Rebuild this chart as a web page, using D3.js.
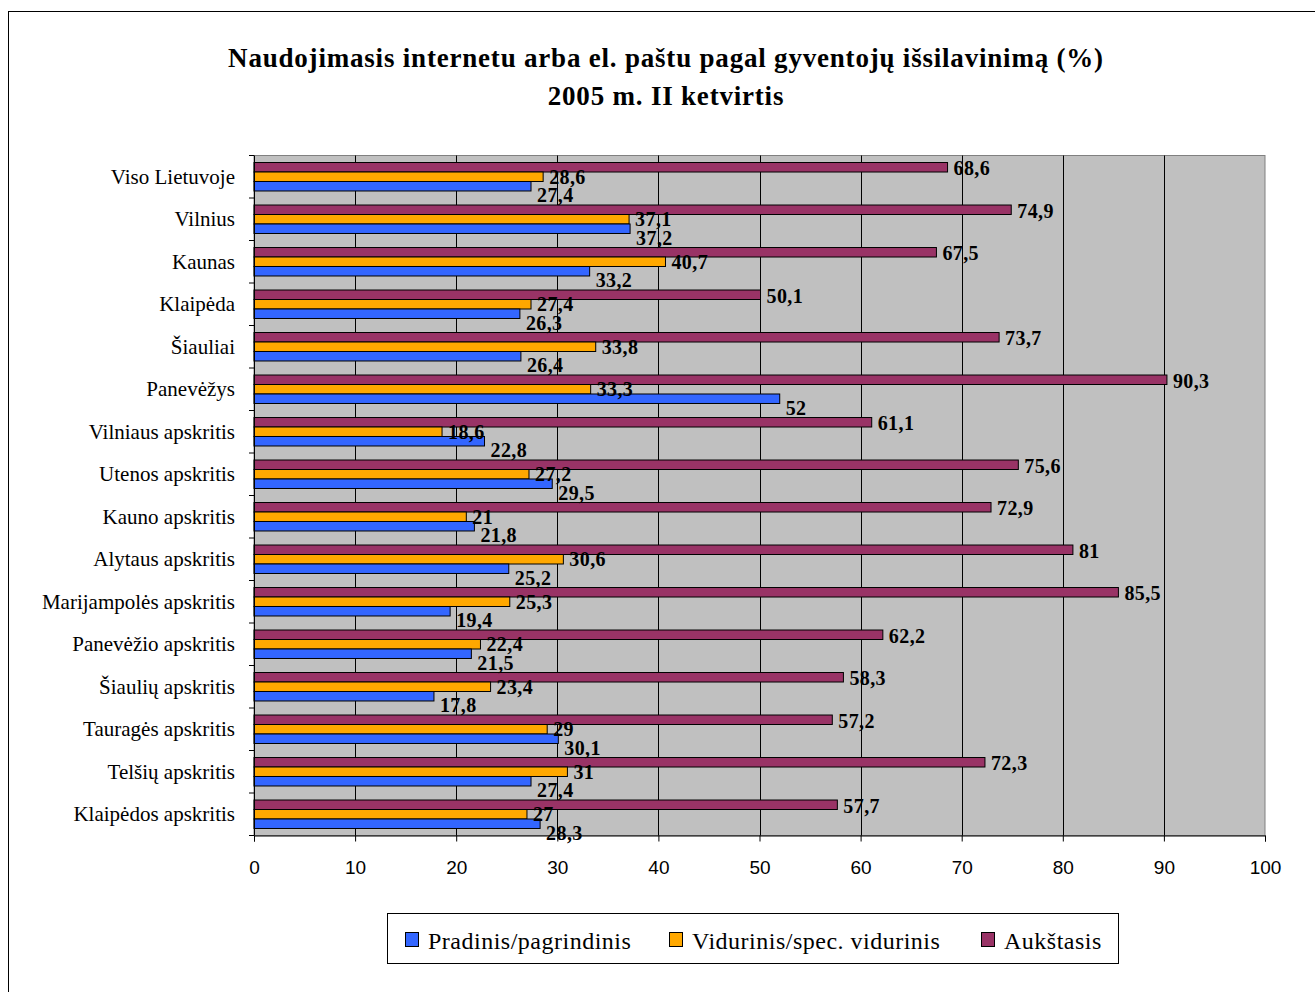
<!DOCTYPE html>
<html>
<head>
<meta charset="utf-8">
<script src="https://cdn.jsdelivr.net/npm/d3@7"></script>
<style>
  html, body { margin: 0; padding: 0; background: #fff; }
  svg { display: block; }
</style>
</head>
<body>
<svg id="chart" width="1315" height="992"></svg>
<script>
// Regions and national total, top to bottom
const categories = [
  "Viso Lietuvoje", "Vilnius", "Kaunas", "Klaipėda", "Šiauliai", "Panevėžys",
  "Vilniaus apskritis", "Utenos apskritis", "Kauno apskritis", "Alytaus apskritis",
  "Marijampolės apskritis", "Panevėžio apskritis", "Šiaulių apskritis",
  "Tauragės apskritis", "Telšių apskritis", "Klaipėdos apskritis"
];

// Share of internet / e-mail users by education level (%)
const pradinis   = [27.4, 37.2, 33.2, 26.3, 26.4, 52, 22.8, 29.5, 21.8, 25.2, 19.4, 21.5, 17.8, 30.1, 27.4, 28.3];
const vidurinis  = [28.6, 37.1, 40.7, 27.4, 33.8, 33.3, 18.6, 27.2, 21, 30.6, 25.3, 22.4, 23.4, 29, 31, 27];
const aukstasis  = [68.6, 74.9, 67.5, 50.1, 73.7, 90.3, 61.1, 75.6, 72.9, 81, 85.5, 62.2, 58.3, 57.2, 72.3, 57.7];

const seriesNames = ["Pradinis/pagrindinis", "Vidurinis/spec. vidurinis", "Aukštasis"];
const xTicks = [0, 10, 20, 30, 40, 50, 60, 70, 80, 90, 100];

const titleLines = [
  "Naudojimasis internetu arba el. paštu pagal gyventojų išsilavinimą (%)",
  "2005 m. II ketvirtis"
];

// Drawing order inside each band: Aukštasis on top, then Vidurinis, then Pradinis.
// dy nudges each series' value labels downward from the bar centre.
const series = [
  { name: seriesNames[2], values: aukstasis, color: "#993366", dy: 1 },
  { name: seriesNames[1], values: vidurinis, color: "#FFA800", dy: 0 },
  { name: seriesNames[0], values: pradinis,  color: "#3366FF", dy: 9 }
];

const serif = "'Liberation Serif', 'Times New Roman', serif";
const svg = d3.select("#chart");
const plot = { left: 254, top: 155.5, right: 1265, bottom: 835.5 };

// Outer chart frame
svg.append("rect")
  .attr("x", 8.5).attr("y", 11.5)
  .attr("width", 1320).attr("height", 1000)
  .attr("fill", "#fff").attr("stroke", "#000").attr("stroke-width", 1);

// Title
svg.append("g").selectAll("text").data(titleLines).join("text")
  .attr("x", 666)
  .attr("y", (d, i) => 67 + i * 38)
  .attr("text-anchor", "middle")
  .attr("font-family", serif)
  .attr("font-weight", "bold")
  .attr("font-size", 27)
  .attr("letter-spacing", 0.8)
  .attr("fill", "#000")
  .text(d => d);

const x = d3.scaleLinear().domain([0, 100]).range([plot.left, plot.right]);
const y = d3.scaleBand().domain(categories).range([plot.top, plot.bottom]).paddingInner(0.33).paddingOuter(0.165);
const yOuter = d3.scaleBand().domain(categories).range([plot.top, plot.bottom]);
const inner = d3.scaleBand().domain(series.map(s => s.name)).range([0, y.bandwidth()]);

// Plot background
svg.append("rect")
  .attr("x", plot.left).attr("y", plot.top)
  .attr("width", plot.right - plot.left).attr("height", plot.bottom - plot.top)
  .attr("fill", "#C0C0C0").attr("stroke", "#808080").attr("stroke-width", 1);

// Vertical gridlines
svg.append("g").selectAll("line").data(xTicks.filter(t => t > 0 && t < 100)).join("line")
  .attr("x1", d => Math.round(x(d)) + 0.5).attr("x2", d => Math.round(x(d)) + 0.5)
  .attr("y1", plot.top).attr("y2", plot.bottom)
  .attr("stroke", "#000").attr("stroke-width", 1);

const points = series.flatMap(s => s.values.map((v, i) => ({ v, cat: categories[i], s })));

// Bars
svg.append("g").selectAll("rect").data(points).join("rect")
  .attr("x", x(0))
  .attr("y", d => y(d.cat) + inner(d.s.name))
  .attr("width", d => x(d.v) - x(0))
  .attr("height", inner.bandwidth())
  .attr("fill", d => d.s.color)
  .attr("stroke", "#000").attr("stroke-width", 1);

// Value labels, drawn over all bars
svg.append("g").selectAll("text").data(points).join("text")
  .attr("x", d => x(d.v) + 6)
  .attr("y", d => y(d.cat) + inner(d.s.name) + inner.bandwidth() / 2 + d.s.dy)
  .attr("dominant-baseline", "central")
  .attr("font-family", serif)
  .attr("font-weight", "bold")
  .attr("font-size", 20)
  .attr("letter-spacing", 0.4)
  .attr("fill", "#000")
  .text(d => String(d.v).replace(".", ","));

// Category axis
const yAxisG = svg.append("g");
yAxisG.append("line")
  .attr("x1", plot.left + 0.5).attr("x2", plot.left + 0.5)
  .attr("y1", plot.top).attr("y2", plot.bottom)
  .attr("stroke", "#000");
yAxisG.selectAll("line.tick").data(d3.range(categories.length + 1)).join("line")
  .attr("class", "tick")
  .attr("x1", plot.left - 5).attr("x2", plot.left)
  .attr("y1", i => plot.top + i * yOuter.step()).attr("y2", i => plot.top + i * yOuter.step())
  .attr("stroke", "#000");
yAxisG.selectAll("text").data(categories).join("text")
  .attr("x", 235)
  .attr("y", d => yOuter(d) + yOuter.bandwidth() / 2)
  .attr("dominant-baseline", "central")
  .attr("text-anchor", "end")
  .attr("font-family", serif)
  .attr("font-size", 21)
  .attr("fill", "#000")
  .text(d => d);

// Value axis
const xAxis = d3.axisBottom(x).tickValues(xTicks).tickSize(6).tickPadding(19).tickFormat(d3.format("d"));
const xAxisG = svg.append("g").attr("transform", `translate(0,${plot.bottom})`).call(xAxis);
xAxisG.select(".domain").attr("stroke", "#000");
xAxisG.selectAll(".tick line").attr("stroke", "#000");
xAxisG.selectAll(".tick text")
  .attr("font-family", "'Liberation Sans', Arial, sans-serif")
  .attr("font-size", 19)
  .attr("fill", "#000");

// Legend
const legend = svg.append("g");
legend.append("rect")
  .attr("x", 387.5).attr("y", 913.5).attr("width", 731).attr("height", 50)
  .attr("fill", "#fff").attr("stroke", "#000");
const legendItems = [
  { name: seriesNames[0], color: "#3366FF", x: 405 },
  { name: seriesNames[1], color: "#FFA800", x: 669 },
  { name: seriesNames[2], color: "#993366", x: 981 }
];
const li = legend.selectAll("g").data(legendItems).join("g")
  .attr("transform", d => `translate(${d.x},0)`);
li.append("rect")
  .attr("x", 0.5).attr("y", 932.5).attr("width", 13).attr("height", 14)
  .attr("fill", d => d.color).attr("stroke", "#000");
li.append("text")
  .attr("x", 23).attr("y", 941)
  .attr("dominant-baseline", "central")
  .attr("font-family", serif)
  .attr("font-size", 24)
  .attr("letter-spacing", 0.5)
  .attr("fill", "#000")
  .text(d => d.name);
</script>
</body>
</html>
